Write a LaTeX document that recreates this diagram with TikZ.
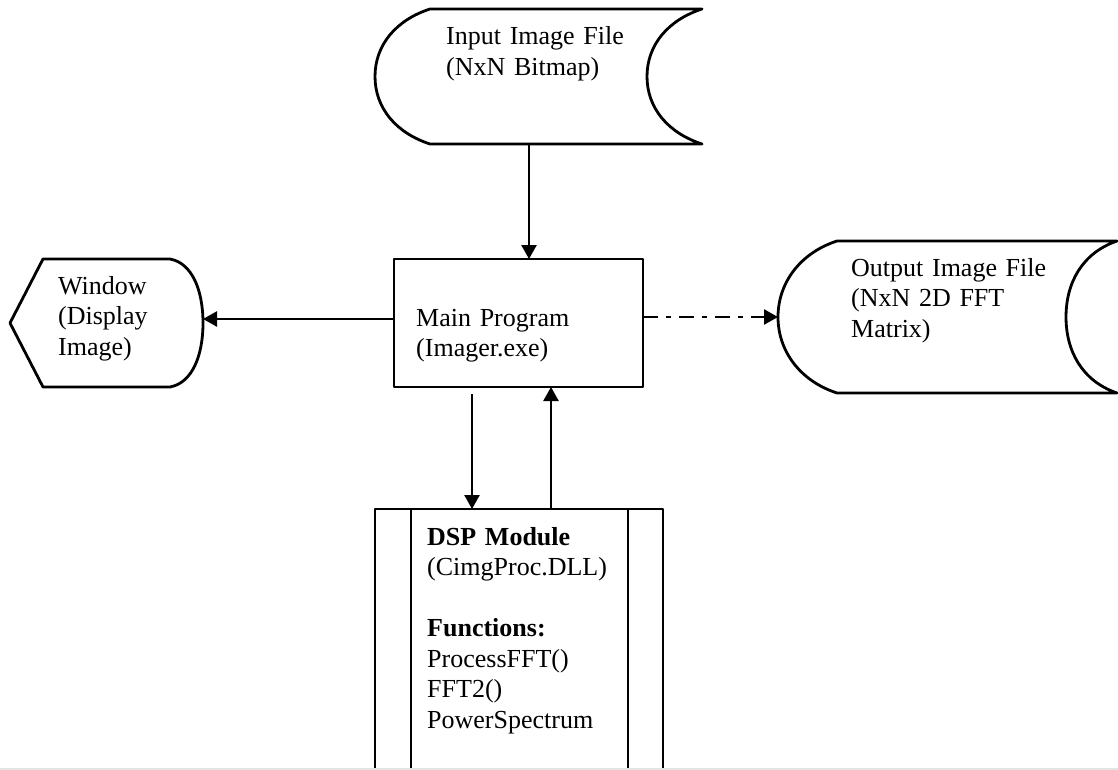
\documentclass[tikz,border=0pt]{standalone}
\usepackage{fontspec}
\setmainfont{Liberation Serif}
\usetikzlibrary{arrows.meta}
\tikzset{
  outline/.style={line width=2.8pt, line join=round},
  flow/.style={line width=2.5pt, -{Triangle[length=14pt,width=15pt]}},
  dashdot/.style={flow, dash pattern=on 15pt off 8pt on 5pt off 8pt},
  frame/.style={inner sep=0pt, outer sep=0pt, minimum width=#1},
  txt/.style={anchor=base west, inner sep=0pt, align=left, text width=#1,
    font=\fontsize{26}{30.5}\selectfont}
}
\begin{document}
\begin{tikzpicture}[x=1pt,y=-1pt]
\useasboundingbox (0,0) rectangle (1118,770);

% block frames used as connector anchors
\node[frame=327pt, minimum height=135pt] (input)  at (538.5,76.5) {};
\node[frame=249pt, minimum height=128pt] (main)   at (518.5,323)  {};
\node[frame=193pt, minimum height=128pt] (window) at (106.5,323)  {};
\node[frame=339pt, minimum height=152pt] (output) at (947.5,317)  {};
\node[frame=288pt, minimum height=261pt] (dsp)    at (519,639.5)  {};

% input file: stored-data symbol
\draw[outline] (430,9) -- (702,9)
  .. controls (668,20) and (647,45) .. (647,76.5)
  .. controls (647,108) and (668,133) .. (702,144)
  -- (430,144)
  .. controls (396,133) and (375,108) .. (375,76.5)
  .. controls (375,45) and (396,20) .. (430,9) -- cycle;

% main program box
\draw[outline] (main.north west) rectangle (main.south east);

% display window
\draw[outline] (43,259) -- (170,259)
  .. controls (192,263) and (203,290) .. (203,323)
  .. controls (203,356) and (192,383) .. (170,387)
  -- (43,387) -- (10,323) -- cycle;

% output file: stored-data symbol
\draw[outline] (837,241) -- (1117,241)
  .. controls (1082,253) and (1066,283) .. (1066,317)
  .. controls (1066,351) and (1082,381) .. (1117,393)
  -- (837,393)
  .. controls (800,381) and (778,351) .. (778,317)
  .. controls (778,283) and (800,253) .. (837,241) -- cycle;

% DSP module: predefined-process box, open at the bottom
\draw[outline] (375,771) -- (375,509) -- (663,509) -- (663,771);
\draw[outline] (411,509) -- (411,771);
\draw[outline] (628,509) -- (628,771);

% texts
\node[txt=200pt] (inputtext) at (446,45) {Input Image File\\(NxN Bitmap)};
\node[txt=200pt] (maintext) at (416,326) {Main Program\\(Imager.exe)};
\node[txt=150pt] (wintext) at (58,294) {Window\\(Display\\Image)};
\node[txt=220pt] (outtext) at (851,276) {Output Image File\\(NxN 2D FFT\\Matrix)};
\node[txt=200pt] (dsptext) at (427,545)
  {\textbf{DSP Module}\\(CimgProc.DLL)\\[30.5pt]\textbf{Functions:}\\ProcessFFT()\\FFT2()\\PowerSpectrum};

% connectors
\draw[flow] ([xshift=-9.5pt]input.south) -- ([xshift=10.5pt]main.north);
\draw[flow] ([yshift=4pt]main.west) -- ([yshift=4pt]window.east);
\draw[dashdot] (main.east |- output.west) -- (output.west);
\draw[flow] ([xshift=-46.5pt,yshift=-7pt]main.south) -- ([xshift=-47pt]dsp.north);
\draw[flow] ([xshift=32pt]dsp.north) -- ([xshift=32.5pt]main.south);

% lower page edge
\draw[gray!20, line width=1.2pt] (0,769) -- (1118,769);
\end{tikzpicture}
\end{document}
